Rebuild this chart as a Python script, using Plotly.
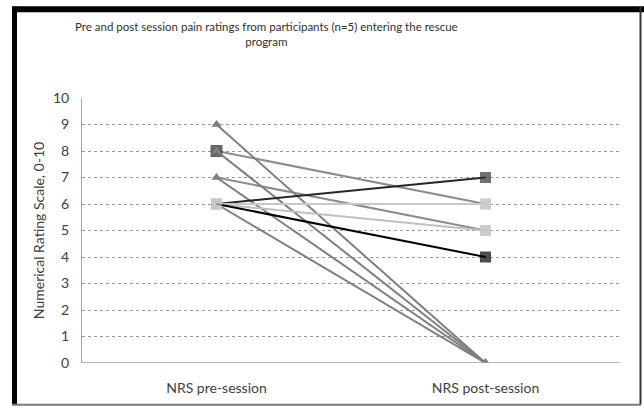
import plotly.graph_objects as go

categories = ["NRS pre-session", "NRS post-session"]

# participant series: (pre, post)
tri_pre = [9, 8, 7, 6]
tri_post = [0, 0, 0, 0]

sq_pre = [8, 7, 6, 6, 6, 6]
sq_post = [6, 5, 7, 6, 5, 4]

y_ticks = list(range(0, 11))

# styles
tri_color = "#7f7f7f"
sq_line_colors = ["#8c8c8c", "#8c8c8c", "#262626", "#c8c8c8", "#c0c0c0", "#000000"]
sq_marker_pre = ["#262626", "#c8c8c8", "#c8c8c8", "#c8c8c8", "#c8c8c8", "#c8c8c8"]
sq_marker_post = ["#c8c8c8", "#c8c8c8", "#333333", "#c8c8c8", "#c8c8c8", "#000000"]
sq_pre_size = [12, 0, 11, 11, 11, 11]

W, H = 644, 408
L, R, T, B = 82, 24, 98, 43
PW, PH = W - L - R, H - T - B

def px(x):
    return (x - L) / PW

def py(y):
    return (H - B - y) / PH

fig = go.Figure()
xs = [0, 1]

order_first = [0, 1]
order_rest = [2, 3, 4, 5]

def add_sq(i):
    fig.add_trace(go.Scatter(
        x=xs, y=[sq_pre[i], sq_post[i]], mode="lines+markers",
        line=dict(color=sq_line_colors[i], width=2),
        marker=dict(symbol="square", size=[sq_pre_size[i], 11],
                    color=[sq_marker_pre[i], sq_marker_post[i]],
                    line=dict(width=0)),
        showlegend=False, hoverinfo="skip"))

for i in order_first:
    add_sq(i)

for a, b in zip(tri_pre, tri_post):
    fig.add_trace(go.Scatter(
        x=xs, y=[a, b], mode="lines+markers",
        line=dict(color=tri_color, width=2),
        marker=dict(symbol="triangle-up", size=9, color=tri_color, line=dict(width=0)),
        showlegend=False, hoverinfo="skip"))

for i in order_rest:
    add_sq(i)

fig.update_layout(
    width=W, height=H,
    margin=dict(l=L, r=R, t=T, b=B),
    paper_bgcolor="white", plot_bgcolor="white",
    font=dict(family="Lato, Open Sans, sans-serif", size=14, color="#404040"),
    showlegend=False,
)

fig.update_xaxes(
    range=[-0.5, 1.5], tickvals=xs, ticktext=categories,
    showgrid=False, zeroline=False, showline=False, ticks="",
    ticklabelstandoff=15,
    tickfont=dict(size=14, color="#404040"),
)
fig.update_yaxes(
    range=[0, 10], tickvals=y_ticks, ticks="",
    showgrid=True, gridcolor="#9a9a9a", griddash="3px,3px", gridwidth=1,
    zeroline=False, showline=True, linecolor="#a6a6a6", linewidth=1,
    ticklabelstandoff=9,
    tickfont=dict(size=14, color="#404040"),
    title=dict(text="Numerical Rating Scale, 0-10", font=dict(size=14, color="#404040"), standoff=5),
)

# x axis baseline
fig.add_shape(type="line", xref="paper", yref="y", x0=0, x1=1, y0=0, y1=0,
              line=dict(color="#a0a0a0", width=1.5))

# title
fig.add_annotation(
    text="Pre and post session pain ratings from participants (n=5) entering the rescue<br>program",
    xref="paper", yref="paper", x=px(266), y=py(17), xanchor="center", yanchor="top",
    showarrow=False, align="center",
    font=dict(size=11.5, color="#303030"))

# frame
fig.add_shape(type="rect", xref="paper", yref="paper", x0=px(12), x1=px(644), y0=py(11.5), y1=py(5.5),
              fillcolor="#000000", line=dict(width=0), layer="above")
fig.add_shape(type="rect", xref="paper", yref="paper", x0=px(12), x1=px(17), y0=py(407), y1=py(6),
              fillcolor="black", line=dict(width=0), layer="above")
fig.add_shape(type="rect", xref="paper", yref="paper", x0=px(639.5), x1=px(641.5), y0=py(407), y1=py(6),
              fillcolor="#333333", line=dict(width=0), layer="above")
fig.add_shape(type="rect", xref="paper", yref="paper", x0=px(12), x1=px(641), y0=py(408), y1=py(406),
              fillcolor="#7a7a7a", line=dict(width=0), layer="above")

fig.write_html("out.html", config={"displayModeBar": False},
               post_script="document.body.style.margin='0';document.body.style.overflow='hidden';")
